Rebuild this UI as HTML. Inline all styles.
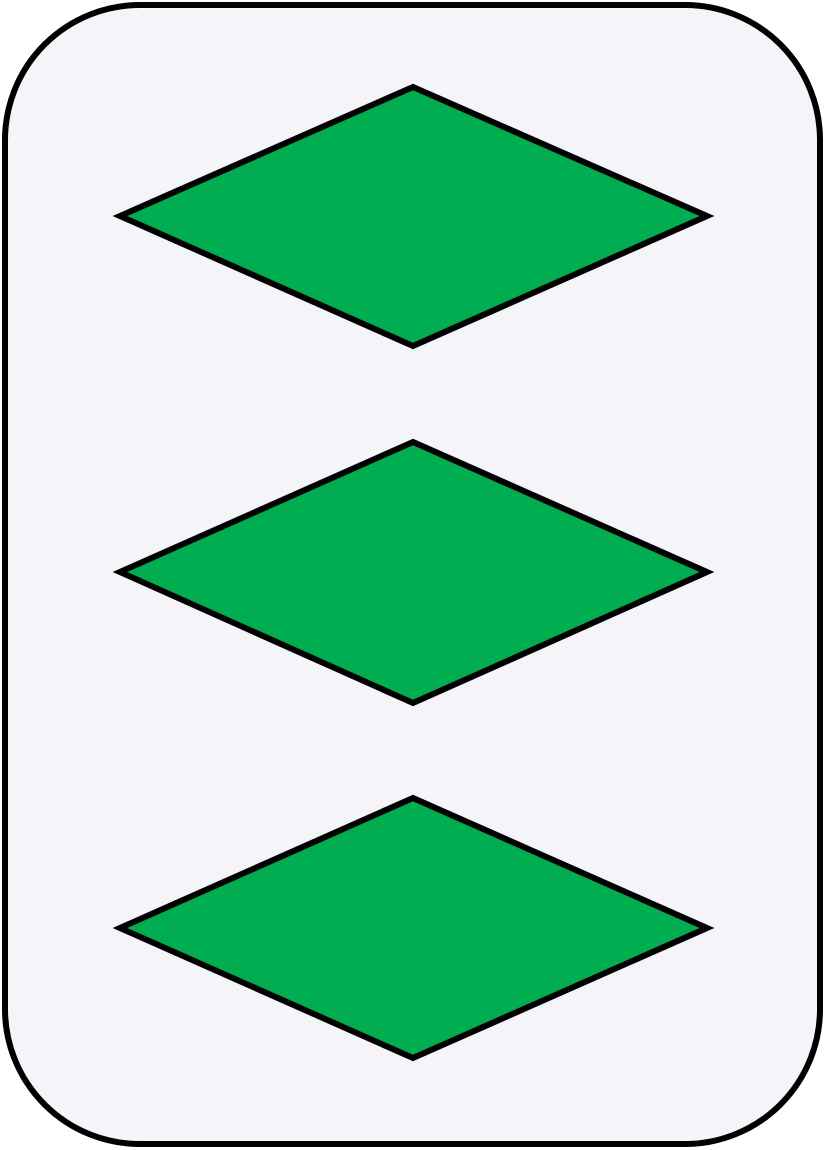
<!DOCTYPE html>
<html>
<head>
<meta charset="utf-8">
<style>
  html, body { margin: 0; padding: 0; background: #ffffff; }
  svg { display: block; }
</style>
</head>
<body>
<svg width="825" height="1150" viewBox="0 0 825 1150" xmlns="http://www.w3.org/2000/svg">
  <rect x="5" y="5" width="815" height="1139" rx="135" ry="135" fill="#f4f4f9" stroke="#000" stroke-width="6"/>
  <polygon points="413,87 707,216 413,346 120,216" fill="#00ad50" stroke="#000" stroke-width="6" stroke-linejoin="miter"/>
  <polygon points="413,442 707,572 413,703 120,572" fill="#00ad50" stroke="#000" stroke-width="6" stroke-linejoin="miter"/>
  <polygon points="413,798 707,928 413,1058 120,928" fill="#00ad50" stroke="#000" stroke-width="6" stroke-linejoin="miter"/>
</svg>
</body>
</html>
